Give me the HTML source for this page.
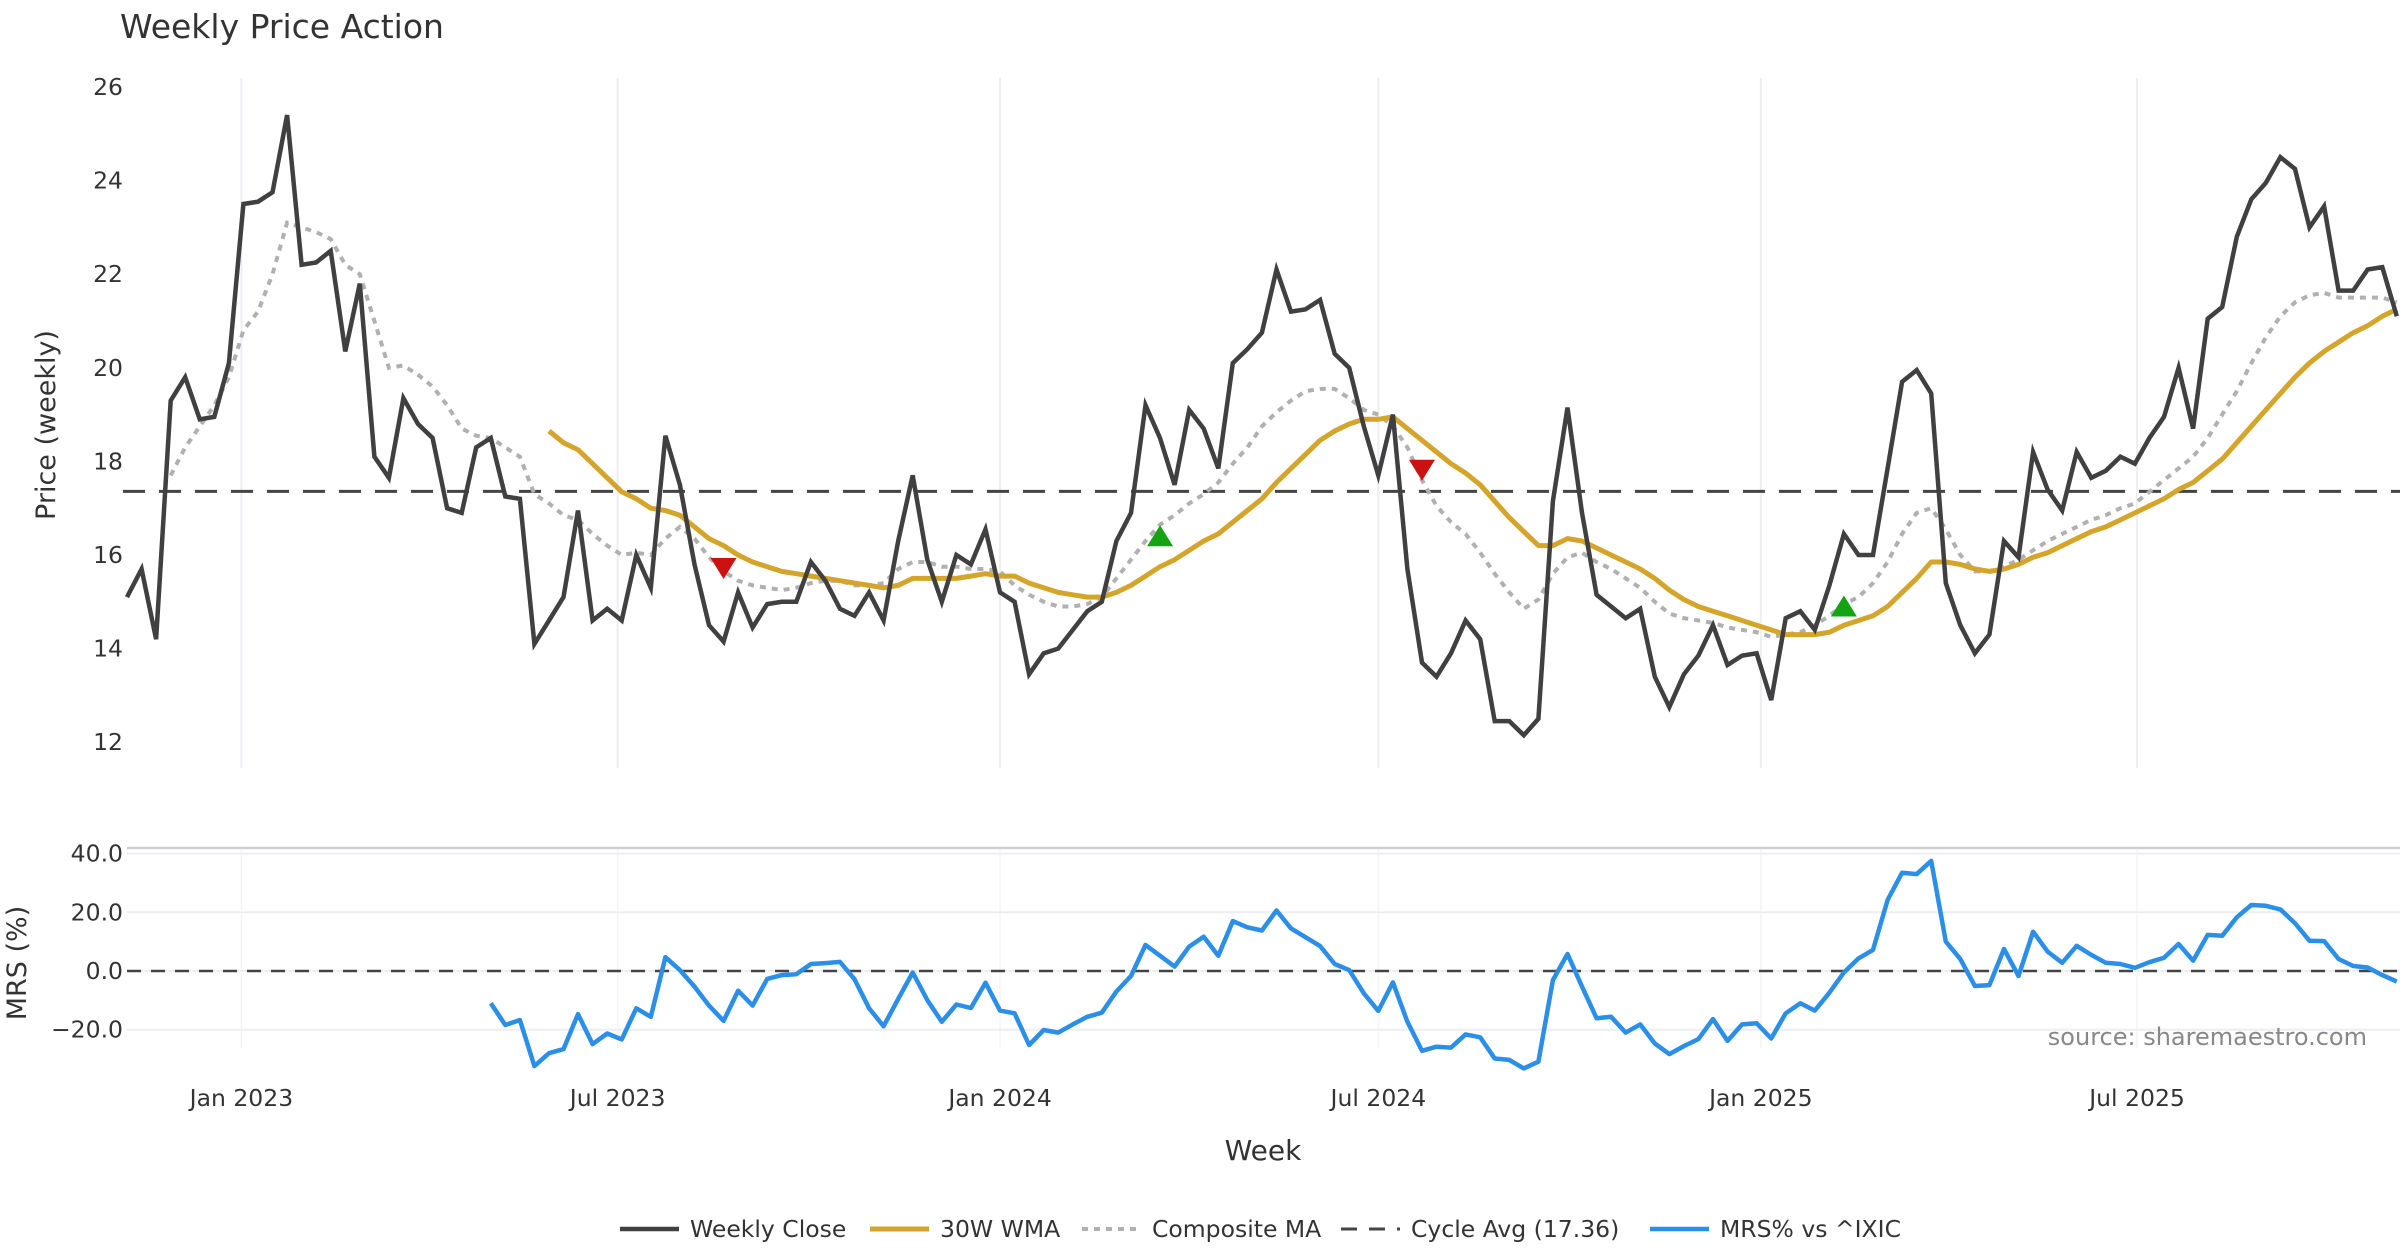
<!DOCTYPE html>
<html><head><meta charset="utf-8"><style>
html,body{margin:0;padding:0;background:#fff;}
svg{display:block;font-family:"DejaVu Sans","Liberation Sans",sans-serif;}
</style></head><body>
<svg id="chart" width="2400" height="1260" viewBox="0 0 2400 1260" xmlns="http://www.w3.org/2000/svg">
<text x="120" y="38" font-size="33" fill="#333">Weekly Price Action</text>
<g id="grid"></g>
<g id="series"></g>
<g id="axes"></g>
<text transform="translate(55,425) rotate(-90)" text-anchor="middle" font-size="27" fill="#333">Price (weekly)</text>
<text transform="translate(26,963) rotate(-90)" text-anchor="middle" font-size="27" fill="#333">MRS (%)</text>
<text x="1263" y="1160" text-anchor="middle" font-size="28" fill="#333">Week</text>
<text x="2367" y="1045" text-anchor="end" font-size="24" fill="#888">source: sharemaestro.com</text>
<g id="legend"></g>
</svg>
<script>
const closeVals=[15.1,15.7,14.2,19.3,19.8,18.9,18.95,20.1,23.5,23.55,23.75,25.4,22.2,22.25,22.5,20.35,21.8,18.1,17.65,19.35,18.8,18.5,17.0,16.9,18.3,18.5,17.25,17.2,14.1,14.6,15.1,16.95,14.6,14.85,14.6,16.0,15.3,18.55,17.5,15.8,14.5,14.15,15.2,14.45,14.95,15.0,15.0,15.85,15.45,14.85,14.7,15.2,14.6,16.3,17.7,15.9,15.0,16.0,15.8,16.55,15.2,15.0,13.45,13.9,14.0,14.4,14.8,15.0,16.3,16.9,19.2,18.5,17.5,19.1,18.7,17.85,20.1,20.4,20.75,22.1,21.2,21.25,21.45,20.3,20.0,18.75,17.7,19.0,15.7,13.7,13.4,13.9,14.6,14.2,12.45,12.45,12.15,12.5,17.15,19.15,16.9,15.15,14.9,14.65,14.85,13.4,12.75,13.45,13.85,14.5,13.65,13.85,13.9,12.9,14.65,14.8,14.4,15.35,16.45,16.0,16.0,17.85,19.7,19.95,19.45,15.4,14.5,13.9,14.3,16.3,15.95,18.2,17.4,16.95,18.2,17.65,17.8,18.1,17.95,18.5,18.95,20.0,18.7,21.05,21.3,22.8,23.6,23.95,24.5,24.25,23.0,23.45,21.65,21.65,22.1,22.15,21.1];
const wmaStart=29;
const wmaVals=[18.65,18.4,18.25,17.95,17.65,17.35,17.2,17.0,16.95,16.85,16.6,16.35,16.2,16.0,15.85,15.75,15.65,15.6,15.55,15.5,15.45,15.4,15.35,15.3,15.35,15.5,15.5,15.5,15.5,15.55,15.6,15.55,15.55,15.4,15.3,15.2,15.15,15.1,15.1,15.2,15.35,15.55,15.75,15.9,16.1,16.3,16.45,16.7,16.95,17.2,17.55,17.85,18.15,18.45,18.65,18.8,18.9,18.9,18.95,18.7,18.45,18.2,17.95,17.75,17.5,17.15,16.8,16.5,16.2,16.2,16.35,16.3,16.15,16.0,15.85,15.7,15.5,15.25,15.05,14.9,14.8,14.7,14.6,14.5,14.4,14.3,14.3,14.3,14.35,14.5,14.6,14.7,14.9,15.2,15.5,15.85,15.85,15.8,15.7,15.65,15.7,15.8,15.95,16.05,16.2,16.35,16.5,16.6,16.75,16.9,17.05,17.2,17.4,17.55,17.8,18.05,18.4,18.75,19.1,19.45,19.8,20.1,20.35,20.55,20.75,20.9,21.1,21.25];
const compStart=3;
const compVals=[17.7,18.3,18.75,19.2,19.8,20.8,21.2,22.0,23.1,23.0,22.9,22.75,22.2,22.0,21.0,20.0,20.05,19.85,19.6,19.2,18.7,18.55,18.5,18.3,18.1,17.3,17.1,16.85,16.75,16.45,16.2,16.0,16.05,16.0,16.35,16.6,16.35,15.95,15.65,15.45,15.35,15.3,15.25,15.3,15.4,15.45,15.45,15.35,15.35,15.4,15.7,15.85,15.85,15.75,15.75,15.7,15.7,15.65,15.35,15.15,15.0,14.9,14.9,14.95,15.1,15.5,15.9,16.3,16.65,16.85,17.1,17.3,17.55,17.95,18.3,18.75,19.05,19.3,19.5,19.55,19.55,19.35,19.1,19.0,18.75,18.3,17.6,17.05,16.7,16.45,16.05,15.6,15.2,14.85,15.05,15.6,15.95,16.05,15.85,15.7,15.5,15.3,15.0,14.75,14.65,14.6,14.55,14.45,14.4,14.35,14.25,14.3,14.35,14.5,14.7,14.95,15.1,15.4,15.85,16.45,16.9,17.0,16.55,16.0,15.65,15.65,15.75,15.9,16.1,16.3,16.45,16.6,16.75,16.85,17.0,17.1,17.35,17.6,17.85,18.1,18.5,19.0,19.5,20.1,20.65,21.1,21.4,21.55,21.6,21.5,21.5,21.5,21.5,21.4];
const mrsStart=25;
const mrsVals=[-11,-18.4,-16.7,-32.4,-28,-26.6,-14.7,-24.9,-21.3,-23.3,-12.7,-15.6,4.7,0.3,-5.3,-11.8,-17,-6.7,-11.8,-2.7,-1.4,-1.1,2.4,2.7,3.1,-2.8,-12.7,-18.8,-9.5,-0.5,-9.9,-17.3,-11.4,-12.6,-4,-13.5,-14.4,-25.2,-20.1,-21,-18.2,-15.6,-14.2,-7,-1.7,8.9,5.2,1.5,8.3,11.7,5.2,17,14.9,13.8,20.6,14.5,11.5,8.5,2.4,0.3,-7.6,-13.6,-3.9,-17.3,-27.2,-25.8,-26.1,-21.6,-22.6,-29.8,-30.3,-33.2,-30.9,-3.1,5.8,-5.3,-16.1,-15.6,-21,-18.2,-24.7,-28.3,-25.6,-23.2,-16.4,-23.8,-18.2,-17.8,-23,-14.4,-11,-13.5,-7.4,-0.5,4.3,7.2,24.2,33.5,33,37.5,10,4.1,-5.1,-4.8,7.5,-1.7,13.4,6.6,2.8,8.6,5.5,2.8,2.4,1.1,3,4.5,9.2,3.5,12.3,12,18.3,22.5,22.2,21,16.3,10.3,10.2,4.1,1.7,1.2,-1.4,-3.6];
const cycleAvg=17.36;
const signalIdx=[41,71,89,118];
const signalVals=[15.7,16.4,17.8,14.9];
const signalType=["down","up","down","up"];
const priceTicks=[12,14,16,18,20,22,24,26];
const mrsTicks=[-20,0,20,40];
const mrsTickLabels=["\u221220.0","0.0","20.0","40.0"];
const xTickLabels=["Jan 2023","Jul 2023","Jan 2024","Jul 2024","Jan 2025","Jul 2025"];
const xTickDates=["2023-01-01","2023-07-01","2024-01-01","2024-07-01","2025-01-01","2025-07-01"];

const NS="http://www.w3.org/2000/svg";
const startMs=Date.UTC(2022,10,6);
const X0=127, STEP=14.55;
function x(i){return X0+i*STEP;}
function yP(v){return 87+(26-v)*46.8;}
function yM(v){return 971-v*2.935;}
function dateIdx(s){const d=new Date(s+"T00:00:00Z");return (d.getTime()-startMs)/(7*864e5);}
function el(tag,attrs,parent){const e=document.createElementNS(NS,tag);for(const k in attrs)e.setAttribute(k,attrs[k]);parent.appendChild(e);return e;}
const gridG=document.getElementById('grid'),seriesG=document.getElementById('series'),axesG=document.getElementById('axes'),legendG=document.getElementById('legend');

xTickDates.forEach((d,k)=>{
  const xx=x(dateIdx(d))-2;
  const g=el('line',{x1:xx,x2:xx,y1:78,y2:768,stroke:'#eceef1','stroke-width':2},gridG);
  
  
  const g2=el('line',{x1:xx,x2:xx,y1:850,y2:1048,stroke:'#f3f4f6','stroke-width':1.5},gridG);
  
  
  const t=el('text',{x:xx,y:1106,'text-anchor':'middle','font-size':23.5,fill:'#333'},axesG);
  t.textContent=xTickLabels[k];
  
  
});
priceTicks.forEach(v=>{
  const t=el('text',{x:123,y:yP(v)+8,'text-anchor':'end','font-size':23.5,fill:'#333'},axesG);
  t.textContent=String(v);
  
  
});
const panelTop=el('line',{x1:127,x2:2400,y1:848,y2:848,stroke:'#cfcfcf','stroke-width':2.5},gridG);


mrsTicks.forEach((v,k)=>{
  const l=el('line',{x1:127,x2:2400,y1:yM(v),y2:yM(v),stroke:'#eceef1','stroke-width':2},gridG);
  
  
  const t=el('text',{x:123,y:yM(v)+8,'text-anchor':'end','font-size':23.5,fill:'#333'},axesG);
  t.textContent=mrsTickLabels[k];
  
  
});
const zl=el('line',{x1:127,x2:2400,y1:yM(0),y2:yM(0),stroke:'#444','stroke-width':2.5,'stroke-dasharray':'14 10'},seriesG);



function pathD(vals,start,yf){return vals.map((v,i)=>(i?'L':'M')+x(start+i).toFixed(1)+','+yf(v).toFixed(1)).join('');}
const ca=el('line',{x1:123,x2:2400,y1:yP(cycleAvg),y2:yP(cycleAvg),stroke:'#444','stroke-width':3,'stroke-dasharray':'22 14'},seriesG);


const cp=el('path',{d:pathD(compVals,compStart,yP),fill:'none',stroke:'#b0b0b0','stroke-width':4,'stroke-dasharray':'6 6'},seriesG);


const wp=el('path',{d:pathD(wmaVals,wmaStart,yP),fill:'none',stroke:'#d4a52a','stroke-width':5,'stroke-linejoin':'round'},seriesG);


const clp=el('path',{d:pathD(closeVals,0,yP),fill:'none',stroke:'#404040','stroke-width':4.5},seriesG);


const mp=el('path',{d:pathD(mrsVals,mrsStart,yM),fill:'none',stroke:'#2b8fe8','stroke-width':4.5,'stroke-linejoin':'round'},seriesG);


signalIdx.forEach((idx,k)=>{
  const cx=x(idx),cy=yP(signalVals[k]);
  const pts=signalType[k]==='down'?`${cx-13},${cy-11} ${cx+13},${cy-11} ${cx},${cy+10}`:`${cx-13},${cy+10} ${cx+13},${cy+10} ${cx},${cy-11}`;
  const m=el('polygon',{points:pts,fill:signalType[k]==='down'?'#cc1111':'#13a313'},seriesG);
  
  
});
const items=[
 {x:620,label:'Weekly Close',stroke:'#404040',dash:'',w:4.5,name:'legend-weekly-close'},
 {x:870,label:'30W WMA',stroke:'#d4a52a',dash:'',w:5,name:'legend-wma'},
 {x:1082,label:'Composite MA',stroke:'#b0b0b0',dash:'6 6',w:4,name:'legend-composite-ma'},
 {x:1341,label:'Cycle Avg (17.36)',stroke:'#444',dash:'16 12',w:3,name:'legend-cycle-avg'},
 {x:1650,label:'MRS% vs ^IXIC',stroke:'#2b8fe8',dash:'',w:4.5,name:'legend-mrs'}];
items.forEach(it=>{
  const g=el('g',{},legendG);
  
  
  el('line',{x1:it.x,x2:it.x+59,y1:1229,y2:1229,stroke:it.stroke,'stroke-width':it.w,'stroke-dasharray':it.dash},g);
  const t=el('text',{x:it.x+70,y:1237,'font-size':23.5,fill:'#333'},g);
  t.textContent=it.label;
});
</script>
</body></html>
